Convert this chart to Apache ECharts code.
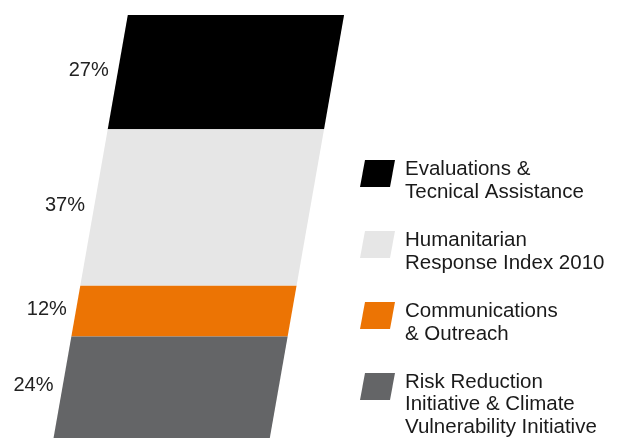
<!DOCTYPE html>
<html><head><meta charset="utf-8">
<script src="https://cdn.jsdelivr.net/npm/echarts@6/dist/echarts.min.js"></script>
<style>html,body{margin:0;padding:0;background:#fff}#c{width:624px;height:438px}</style>
</head><body><div id="c"></div>
<script>
// ---- data ----
const categories = [
  'Evaluations &\nTecnical Assistance',
  'Humanitarian\nResponse Index 2010',
  'Communications\n& Outreach',
  'Risk Reduction\nInitiative & Climate\nVulnerability Initiative'
];
const shares = [27, 37, 12, 24];           // percent, top to bottom
const shareLabels = ['27%', '37%', '12%', '24%'];
const colors = ['#000000', '#e6e6e6', '#ec7404', '#646567'];

// ---- layout/style constants ----
const FONT = '"Liberation Sans", Arial, sans-serif';
const BAR_X0 = 8.58;    // x-axis units, bottom-left corner of the slanted bar
const BAR_W = 34.66;    // x-axis units
const SLANT = 0.119;    // x units per y unit
const LEGEND_TOPS = [160, 231, 302, 373];
const LINE_H = 22.5;

// cumulative ranges from bottom
const n = shares.length;
const ranges = new Array(n);
let acc = 0;
for (let i = n - 1; i >= 0; i--) { ranges[i] = [acc, acc + shares[i]]; acc += shares[i]; }

function renderSeg(idx) {
  return function (params, api) {
    const s = api.value(0), e = api.value(1);
    const p1 = api.coord([BAR_X0 + SLANT * s, s]);
    const p2 = api.coord([BAR_X0 + BAR_W + SLANT * s, s]);
    const p3 = api.coord([BAR_X0 + BAR_W + SLANT * e, e]);
    const p4 = api.coord([BAR_X0 + SLANT * e, e]);
    const m = (s + e) / 2;
    const pm = api.coord([BAR_X0 + SLANT * m, m]);
    return {
      type: 'group',
      children: [
        { type: 'polygon', shape: { points: [p1, p2, p3, p4] }, style: { fill: colors[idx] } },
        { type: 'text', x: pm[0] - 9, y: pm[1] - 2,
          style: { text: shareLabels[idx], align: 'right', verticalAlign: 'middle',
                   fontSize: 20, fontFamily: FONT, fill: '#222222' } }
      ]
    };
  };
}

const series = categories.map((name, i) => ({
  type: 'custom', name: name,
  itemStyle: { color: colors[i] },
  renderItem: renderSeg(i),
  data: [ranges[i]],
  encode: { y: [0, 1] }
}));

const legends = categories.map((name, i) => {
  const lines = name.split('\n');
  const spacer = lines.length === 3 ? 36 : 15;
  const blockTop = 13.5 - (spacer + lines.length * LINE_H) / 2;
  return {
    data: [name], orient: 'vertical', left: 360,
    top: LEGEND_TOPS[i] + blockTop,
    padding: 0, itemWidth: 35, itemHeight: 27, selectedMode: false,
    icon: 'path://M5,0 L35,0 L30,27 L0,27 Z',
    formatter: function (nm) {
      return '{s| }\n' + nm.split('\n').map(l => '{t|' + l + '}').join('\n');
    },
    textStyle: {
      padding: [0, 0, 0, 5],
      rich: {
        s: { fontSize: 4, lineHeight: spacer, height: spacer },
        t: { fontSize: 20.5, fontFamily: FONT, color: '#1a1a1a', lineHeight: LINE_H }
      }
    }
  };
});

const chart = echarts.init(document.getElementById('c'), null, { renderer: 'canvas' });
chart.setOption({
  animation: false,
  grid: { left: 0, right: 0, top: 15, bottom: 0 },
  xAxis: { type: 'value', min: 0, max: 100, show: false },
  yAxis: { type: 'value', min: 0, max: 100, show: false },
  legend: legends,
  series: series
});
</script></body></html>
